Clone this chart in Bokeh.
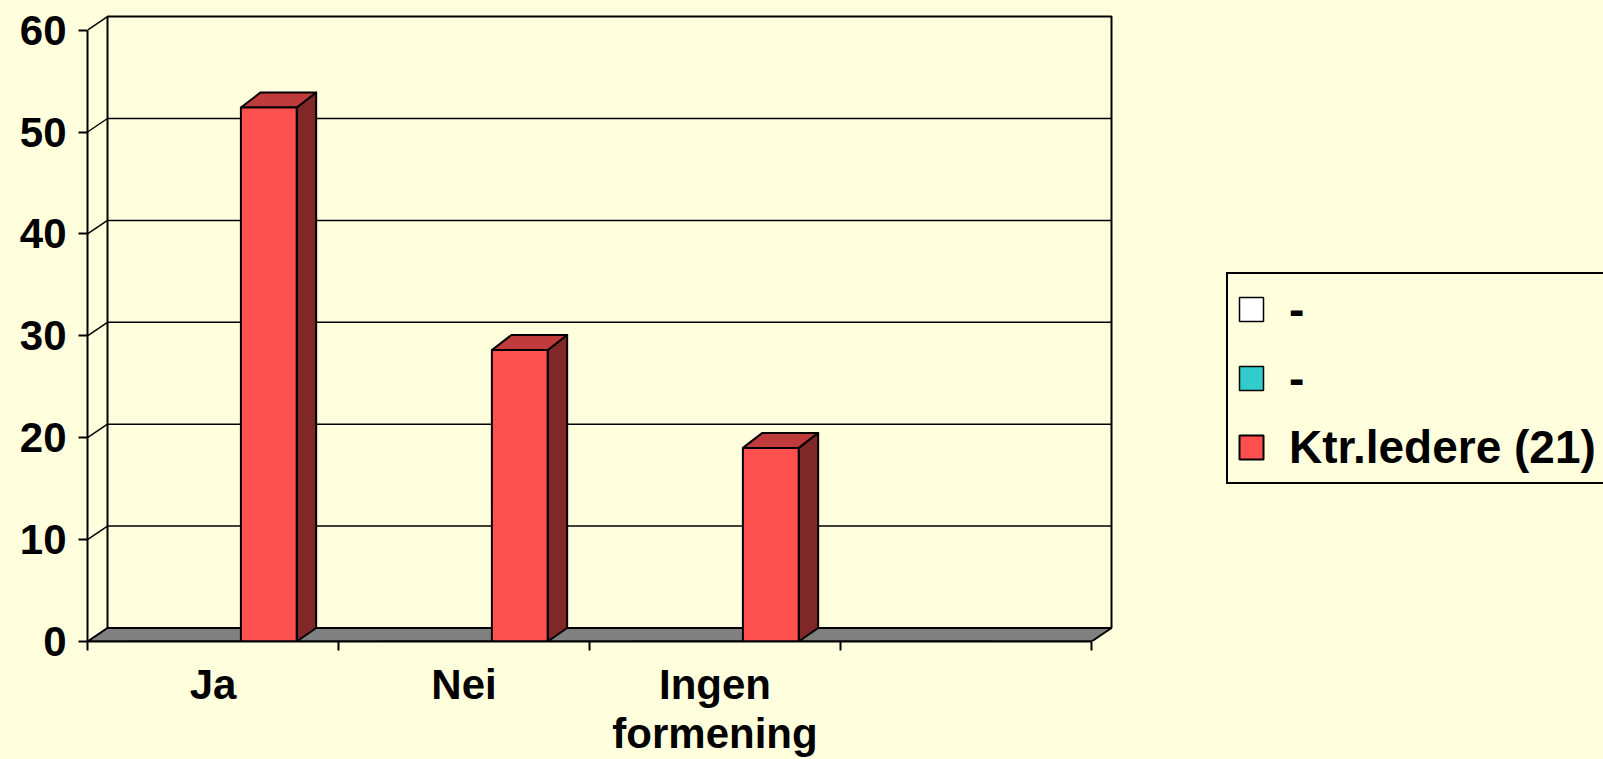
from bokeh.plotting import figure
from bokeh.models import Range1d, FixedTicker, Legend, LegendItem
from bokeh.embed import file_html
from bokeh.resources import INLINE

# ---- data ----
categories = ["Ja", "Nei", "Ingen\nformening", ""]
series_names = ["-", "-", "Ktr.ledere (21)"]
blank_vals = [0, 0, 0, 0]
cyan_vals = [0, 0, 0, 0]
ktr_vals = [52.4, 28.6, 19.0]
y_ticks = [0, 10, 20, 30, 40, 50, 60]

# ---- style ----
BG = "#FFFFDD"
FONT = "Liberation Sans"
RED = "#FF5050"
RED_TOP = "#C03C3C"
RED_SIDE = "#802828"
FLOOR = "#808080"
CYAN = "#33CCCC"

W, H = 1603, 759
LEFT, BOTTOM = 87, 118
XPX = 251.0     # px per category
YPX = 10.19     # px per unit
n_cat = len(categories)
y_max = y_ticks[-1]
dxw, dyw = 20 / XPX, 13.5 / YPX   # wall depth
dxb, dyb = 19.5 / XPX, 15 / YPX   # bar depth (top)

p = figure(width=W, height=H, output_backend="svg", toolbar_location=None,
           x_range=Range1d(0, (W - LEFT) / XPX),
           y_range=Range1d(0, (H - BOTTOM) / YPX),
           min_border_left=LEFT, min_border_right=0, min_border_top=0,
           min_border_bottom=BOTTOM,
           background_fill_color=BG, border_fill_color=BG,
           outline_line_color=None)
p.xgrid.visible = False
p.ygrid.visible = False

# back wall
p.quad(left=[dxw], right=[n_cat + dxw], bottom=[dyw], top=[y_max + dyw],
       fill_color=BG, line_color="black", line_width=2)
# gridlines on back wall + left wall diagonals
gl = y_ticks[1:-1]
p.segment(x0=[dxw] * len(gl), x1=[n_cat + dxw] * len(gl),
          y0=[v + dyw for v in gl], y1=[v + dyw for v in gl],
          line_color="black", line_width=1.5)
p.segment(x0=[0] * len(y_ticks), x1=[dxw] * len(y_ticks),
          y0=y_ticks, y1=[v + dyw for v in y_ticks],
          line_color="black", line_width=1.5)
# floor
p.patch(x=[0, n_cat, n_cat + dxw, dxw], y=[0, 0, dyw, dyw],
        fill_color=FLOOR, line_color="black", line_width=2)

ns = len(series_names)
bw = 1.0 / (ns + 1.5)

def lefts(k, n):
    return [i + 0.5 + (k - 1) * bw - bw / 2 for i in range(n)]

# blank series (zero height)
l0 = lefts(0, len(blank_vals))
r_blank = p.quad(left=l0, right=[x + bw for x in l0], bottom=0, top=blank_vals,
                 fill_color="white", line_color="black", line_width=1.5)
l1 = lefts(1, len(cyan_vals))
r_cyan = p.quad(left=l1, right=[x + bw for x in l1], bottom=0, top=cyan_vals,
                fill_color=CYAN, line_color="black", line_width=1.5)

# Ktr.ledere bars (3D)
l2 = lefts(2, len(ktr_vals))
r2 = [x + bw for x in l2]
side_xs = [[r, r + dxb, r + dxb, r] for r in r2]
side_ys = [[0, dyw, v + dyb, v] for v in ktr_vals]
p.patches(xs=side_xs, ys=side_ys, fill_color=RED_SIDE, line_color="black",
          line_width=2, line_join="round")
top_xs = [[l, l + dxb, r + dxb, r] for l, r in zip(l2, r2)]
top_ys = [[v, v + dyb, v + dyb, v] for v in ktr_vals]
p.patches(xs=top_xs, ys=top_ys, fill_color=RED_TOP, line_color="black",
          line_width=2, line_join="round")
r_ktr = p.quad(left=l2, right=r2, bottom=0, top=ktr_vals,
               fill_color=RED, line_color="black", line_width=2)

# y axis
ya = p.yaxis[0]
ya.ticker = FixedTicker(ticks=y_ticks)
ya.bounds = (0, y_max)
ya.axis_line_width = 2
ya.major_tick_line_width = 2
ya.major_tick_out = 9
ya.major_tick_in = 0
ya.minor_tick_line_color = None
ya.major_label_standoff = 12
ya.major_label_text_font = FONT
ya.major_label_text_font_style = "bold"
ya.major_label_text_font_size = "42px"
ya.major_label_text_color = "black"

# x axis
xa = p.xaxis[0]
label_pos = [i + 0.5 for i, c in enumerate(categories) if c]
xa.ticker = FixedTicker(ticks=label_pos, minor_ticks=list(range(n_cat + 1)))
xa.major_label_overrides = {i + 0.5: c for i, c in enumerate(categories) if c}
xa.bounds = (0, n_cat)
xa.axis_line_width = 2
xa.major_tick_line_color = None
xa.major_tick_out = 0
xa.major_tick_in = 0
xa.minor_tick_line_color = "black"
xa.minor_tick_line_width = 2
xa.minor_tick_out = 9
xa.minor_tick_in = 0
xa.major_label_standoff = 10
xa.major_label_text_font = FONT
xa.major_label_text_font_style = "bold"
xa.major_label_text_font_size = "42px"
xa.major_label_text_line_height = 1.05
xa.major_label_text_color = "black"

legend = Legend(items=[
    LegendItem(label=series_names[0], renderers=[r_blank]),
    LegendItem(label=series_names[1], renderers=[r_cyan]),
    LegendItem(label=series_names[2], renderers=[r_ktr]),
], location=(1139, 157), orientation="vertical",
    glyph_width=30, glyph_height=30, label_standoff=23, spacing=15,
    padding=8, margin=0,
    label_text_font=FONT, label_text_font_style="bold",
    label_text_font_size="46px",
    label_text_color="black",
    border_line_color="black", border_line_width=2, border_line_alpha=1.0,
    background_fill_color=BG, background_fill_alpha=1.0)
p.add_layout(legend, "center")

html = file_html(p, INLINE)
html = html.replace("<head>", "<head><style>html,body{background:%s;}</style>" % BG, 1)
open("out.html", "w").write(html)
